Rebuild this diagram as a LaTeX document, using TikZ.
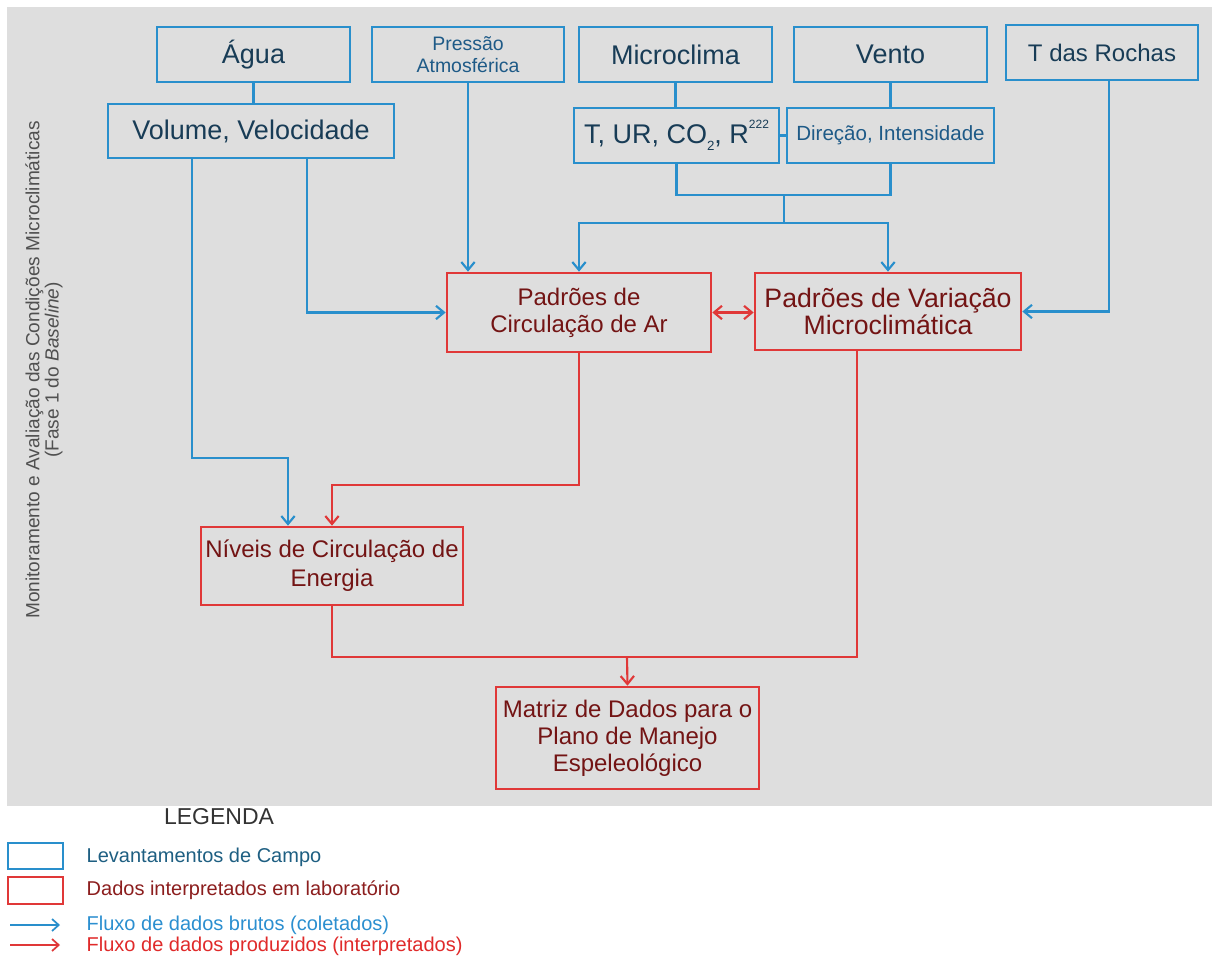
\documentclass[tikz,border=0pt]{standalone}
\usepackage{fontspec}
\setmainfont{Liberation Sans}
\usetikzlibrary{arrows.meta,calc}
\definecolor{bggray}{RGB}{222,222,222}
\definecolor{lblue}{RGB}{41,143,204}
\definecolor{lred}{RGB}{224,56,56}
\definecolor{tblue}{RGB}{24,60,86}
\definecolor{tbluetwo}{RGB}{30,90,135}
\definecolor{tred}{RGB}{115,20,20}
\definecolor{ltext}{RGB}{80,80,80}
\definecolor{legblue}{RGB}{30,95,130}
\definecolor{legred}{RGB}{140,30,30}
\definecolor{legbluetwo}{RGB}{43,143,208}
\definecolor{legredtwo}{RGB}{224,42,42}
\definecolor{legtitlecol}{RGB}{51,51,51}
\begin{document}
\begin{tikzpicture}[x=0.75pt,y=-0.75pt,
  sz/.style 2 args={minimum width={#1*0.75pt}, minimum height={#2*0.75pt}},
  bbox/.style={draw=lblue, line width=2pt, inner sep=0pt, align=center, text=tblue},
  rbox/.style={draw=lred, line width=2pt, inner sep=0pt, align=center, text=tred},
  bline/.style={draw=lblue, line width=1.6pt},
  rline/.style={draw=lred, line width=1.6pt},
  barb/.tip={Straight Barb[length=6pt,width=10pt]},
  barrow/.style={bline, -barb},
  rarrow/.style={rline, -barb},
  rdarrow/.style={rline, barb-barb},
  big/.style={font=\fontsize{20.25pt}{23pt}\selectfont},
  mid/.style={font=\fontsize{18pt}{20.25pt}\selectfont},
  legtext/.style={anchor=west, font=\fontsize{15pt}{17pt}\selectfont}
]
\useasboundingbox (0,0) rectangle (1212,963);
\fill[white] (0,0) rectangle (1212,963);
\fill[bggray] (7,7) rectangle (1212,806);

% side title
\node[rotate=90, align=center, text=ltext, font=\fontsize{14.3pt}{14.5pt}\selectfont] (side) at (44,370)
  {Monitoramento e Avaliação das Condições Microclimáticas\\(Fase 1 do \textit{Baseline})};

% field boxes
\node[bbox, big, sz={193}{55}] (agua) at (253.5,54.5) {Água};
\node[bbox, big, sz={286}{54}] (vol) at (251,131) {Volume, Velocidade};
\node[bbox, text=tbluetwo, font=\fontsize{14.6pt}{16.5pt}\selectfont, sz={192}{55}] (pres) at (468,54.5) {Pressão\\Atmosférica};
\node[bbox, big, sz={193}{55}] (micro) at (675.5,54.5) {Microclima};
\node[bbox, big, sz={193}{55}] (vento) at (890.5,54.5) {Vento};
\node[bbox, font=\fontsize{18pt}{20pt}\selectfont, sz={192}{55}] (rochas) at (1102,52.5) {T das Rochas};
\node[bbox, big, sz={205}{55}] (tur) at (676.5,135.5)
  {T, UR, CO\raisebox{-0.45ex}{\fontsize{10pt}{10pt}\selectfont 2}, R\raisebox{1.05ex}{\fontsize{9pt}{9pt}\selectfont 222}};
\node[bbox, text=tbluetwo, font=\fontsize{15.4pt}{17pt}\selectfont, sz={207}{55}] (dir) at (890.5,135.5) {Direção, Intensidade};

% lab boxes
\node[rbox, mid, sz={264}{79}] (circ) at (579,312.5) {Padrões de\\Circulação de Ar};
\node[rbox, font=\fontsize{20pt}{20.5pt}\selectfont, sz={266}{77}] (var) at (888,311.5) {Padrões de Variação\\Microclimática};
\node[rbox, font=\fontsize{18pt}{21.75pt}\selectfont, sz={262}{78}] (niveis) at (332,566) {Níveis de Circulação de\\Energia};
\node[rbox, mid, sz={263}{102}] (matriz) at (627.5,738) {Matriz de Dados para o\\Plano de Manejo\\Espeleológico};

% junction coordinates
\coordinate (j1) at (784,195);
\coordinate (j2) at (784,223);
\coordinate (vj) at (288,458);
\coordinate (m1) at (627,657);

% blue connectors
\draw[bline] (agua.south) -- (agua.south |- vol.north);
\draw[bline] (micro.south) -- (micro.south |- tur.north);
\draw[bline] (vento.south) -- (vento.south |- dir.north);
\draw[bline] (tur.east) -- (dir.west);
\draw[bline] (tur.south) |- (j1) -| (dir.south);
\draw[bline] (j1) -- (j2);
\draw[barrow] (j2) -| (circ.north);
\draw[barrow] (j2) -| (var.north);
\draw[barrow] (pres.south) -- (pres.south |- circ.north);
\draw[barrow] ($(vol.south)+(56,0)$) |- (circ.west);
\draw[barrow] ($(vol.south)+(-59,0)$) |- (vj) -- (vj |- niveis.north);
\draw[barrow] ($(rochas.south)+(7,0)$) |- (var.east);

% red connectors
\draw[rdarrow] (circ.east) -- (circ.east -| var.west);
\draw[rarrow] (circ.south) -- ++(0,132) -| (niveis.north);
\draw[rline] (niveis.south) |- (m1) -| ($(var.south)+(-31,0)$);
\draw[rarrow] (m1) -- (matriz.north);

% legend
\node[text=legtitlecol, font=\fontsize{17.25pt}{19pt}\selectfont] (legtitle) at (219,817) {LEGENDA};
\node[draw=lblue, line width=2pt, inner sep=0pt, sz={55}{26}] (legb) at (35.5,856) {};
\node[draw=lred, line width=2pt, inner sep=0pt, sz={55}{27}] (legr) at (35.5,890.5) {};
\coordinate (la1) at (10,925);
\coordinate (la2) at (60,925);
\coordinate (lb1) at (10,945);
\coordinate (lb2) at (60,945);
\draw[bline, line width=1.3pt, -{Straight Barb[length=5pt,width=9pt]}] (la1) -- (la2);
\draw[rline, line width=1.3pt, -{Straight Barb[length=5pt,width=9pt]}] (lb1) -- (lb2);
\node[legtext, text=legblue] (lt1) at (82,857) {Levantamentos de Campo};
\node[legtext, text=legred] (lt2) at (82,890) {Dados interpretados em laboratório};
\node[legtext, text=legbluetwo] (lt3) at (82,925) {Fluxo de dados brutos (coletados)};
\node[legtext, text=legredtwo] (lt4) at (82,946) {Fluxo de dados produzidos (interpretados)};
\end{tikzpicture}
\end{document}
